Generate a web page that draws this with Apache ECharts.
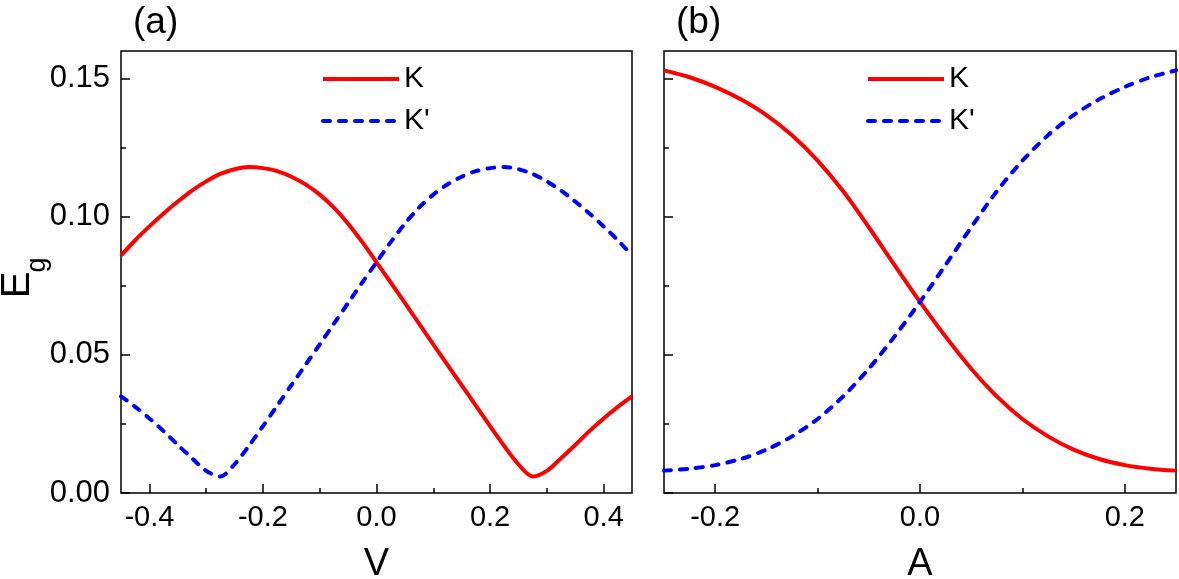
<!DOCTYPE html>
<html>
<head>
<meta charset="utf-8">
<script src="https://cdn.jsdelivr.net/npm/echarts@6/dist/echarts.min.js"></script>
<style>
  html, body { margin: 0; padding: 0; background: #fff; }
  #main { width: 1179px; height: 579px; }
</style>
</head>
<body>
<div id="main"></div>
<script>
// (a) 能隙随 V 变化
var vA = [-0.45, -0.425, -0.4, -0.375, -0.35, -0.325, -0.3, -0.275, -0.25, -0.225, -0.2, -0.175, -0.15,
          -0.125, -0.1, -0.075, -0.05, -0.025, 0, 0.025, 0.05, 0.075, 0.1, 0.125, 0.15, 0.175, 0.2,
          0.225, 0.25, 0.275, 0.3, 0.325, 0.35, 0.375, 0.4, 0.425, 0.45];
var kA = [0.0860, 0.0915, 0.0965, 0.1012, 0.1055, 0.1095, 0.1128, 0.1155, 0.1172, 0.1180, 0.1176, 0.1165, 0.1145,
          0.1117, 0.1080, 0.1033, 0.0975, 0.0908, 0.0835, 0.0762, 0.0688, 0.0613, 0.0538, 0.0464, 0.0390, 0.0316, 0.0242,
          0.0170, 0.0104, 0.0060, 0.0080, 0.0126, 0.0174, 0.0224, 0.0270, 0.0312, 0.0350];
var kpA = [0.0350, 0.0312, 0.0270, 0.0224, 0.0174, 0.0126, 0.0080, 0.0060, 0.0104, 0.0170, 0.0242, 0.0316, 0.0390,
           0.0464, 0.0538, 0.0613, 0.0688, 0.0762, 0.0835, 0.0908, 0.0975, 0.1033, 0.1080, 0.1117, 0.1145, 0.1165, 0.1176,
           0.1180, 0.1172, 0.1155, 0.1128, 0.1095, 0.1055, 0.1012, 0.0965, 0.0915, 0.0860];

// (b) 能隙随 A 变化
var aB = [-0.25, -0.225, -0.2, -0.175, -0.15, -0.125, -0.1, -0.075, -0.05, -0.025, 0,
          0.025, 0.05, 0.075, 0.1, 0.125, 0.15, 0.175, 0.2, 0.225, 0.25];
var kB = [0.1530, 0.1505, 0.1470, 0.1425, 0.1368, 0.1295, 0.1203, 0.1092, 0.0962, 0.0826, 0.0692,
          0.0566, 0.0450, 0.0350, 0.0268, 0.0205, 0.0157, 0.0123, 0.0101, 0.0088, 0.0081];
var kpB = [0.0081, 0.0088, 0.0101, 0.0123, 0.0157, 0.0205, 0.0268, 0.0350, 0.0450, 0.0566, 0.0692,
           0.0826, 0.0962, 0.1092, 0.1203, 0.1295, 0.1368, 0.1425, 0.1470, 0.1505, 0.1530];

// 刻度
var xTicksA = [-0.4, -0.2, 0, 0.2, 0.4];
var xMinorA = [-0.3, -0.1, 0.1, 0.3];
var xTicksB = [-0.2, 0, 0.2];
var xMinorB = [-0.1, 0.1];
var yTicks = [0, 0.05, 0.1, 0.15];
var yMinor = [0.025, 0.075, 0.125];

var FONT = 'Liberation Sans, Arial, sans-serif';

function pairs(xs, ys) {
    var out = [];
    for (var i = 0; i < xs.length; i++) {
        out.push([xs[i], ys[i]]);
    }
    return out;
}

function xAxisMajor(grid, min, max, ticks, name) {
    return {
        gridIndex: grid, type: 'value', position: 'bottom',
        min: min, max: max,
        axisLine: {show: false, onZero: false},
        splitLine: {show: false},
        axisTick: {inside: true, length: 9, customValues: ticks, lineStyle: {color: '#000', width: 1.5}},
        axisLabel: {
            customValues: ticks, fontSize: 29, color: '#000', margin: 10, fontFamily: FONT,
            formatter: function (v) { return v.toFixed(1); }
        },
        name: name, nameLocation: 'middle', nameGap: 53,
        nameTextStyle: {fontSize: 38, color: '#000', fontFamily: FONT}
    };
}

function xAxisMinor(grid, min, max, ticks) {
    return {
        gridIndex: grid, type: 'value', position: 'bottom',
        min: min, max: max,
        axisLine: {show: false, onZero: false},
        splitLine: {show: false},
        axisTick: {inside: true, length: 5, customValues: ticks, lineStyle: {color: '#000', width: 1.5}},
        axisLabel: {show: false}
    };
}

function yAxisMajor(grid, showLabel) {
    return {
        gridIndex: grid, type: 'value', position: 'left',
        min: 0, max: 0.16,
        axisLine: {show: false, onZero: false},
        splitLine: {show: false},
        axisTick: {inside: true, length: 9, customValues: yTicks, lineStyle: {color: '#000', width: 1.5}},
        axisLabel: {
            show: showLabel, customValues: yTicks, fontSize: 31, color: '#000', margin: 11, fontFamily: FONT,
            formatter: function (v) { return v.toFixed(2); }
        }
    };
}

function yAxisMinor(grid) {
    return {
        gridIndex: grid, type: 'value', position: 'left',
        min: 0, max: 0.16,
        axisLine: {show: false, onZero: false},
        splitLine: {show: false},
        axisTick: {inside: true, length: 5, customValues: yMinor, lineStyle: {color: '#000', width: 1.5}},
        axisLabel: {show: false}
    };
}

function lineSeries(name, data, xi, yi, dashed) {
    return {
        name: name, type: 'line', data: data,
        xAxisIndex: xi, yAxisIndex: yi,
        symbol: 'none', showSymbol: false, smooth: 0.3,
        lineStyle: dashed
            ? {color: '#0000ff', width: 4, type: [7, 9], cap: 'round'}
            : {color: '#ff0000', width: 4},
        itemStyle: {color: dashed ? '#0000ff' : '#ff0000'}
    };
}

function legendAt(left) {
    return {
        data: ['K', "K'"], orient: 'vertical',
        left: left, top: 59,
        itemWidth: 76, itemHeight: 30, itemGap: 12,
        selectedMode: false,
        itemStyle: {opacity: 0},
        lineStyle: {width: 4},
        textStyle: {fontSize: 30, lineHeight: 30, color: '#000', fontFamily: FONT}
    };
}

var myChart = echarts.init(document.getElementById('main'), null, {renderer: 'canvas'});

var gridStyle = {show: true, borderColor: '#000', borderWidth: 1.5, backgroundColor: 'transparent', outerBoundsMode: 'none'};

var option = {
    animation: false,
    backgroundColor: '#fff',
    textStyle: {fontFamily: FONT},
    grid: [
        Object.assign({left: 121, top: 51, width: 511, height: 442}, gridStyle),
        Object.assign({left: 664, top: 51, width: 512, height: 442}, gridStyle)
    ],
    xAxis: [
        xAxisMajor(0, -0.45, 0.45, xTicksA, 'V'),
        xAxisMinor(0, -0.45, 0.45, xMinorA),
        xAxisMajor(1, -0.25, 0.25, xTicksB, 'A'),
        xAxisMinor(1, -0.25, 0.25, xMinorB)
    ],
    yAxis: [
        yAxisMajor(0, true),
        yAxisMinor(0),
        yAxisMajor(1, false),
        yAxisMinor(1)
    ],
    legend: [legendAt(316), legendAt(861)],
    graphic: [
        {type: 'text', x: 133, y: 23, style: {text: '(a)', font: '37px ' + FONT, fill: '#000', textVerticalAlign: 'middle'}},
        {type: 'text', x: 676, y: 23, style: {text: '(b)', font: '37px ' + FONT, fill: '#000', textVerticalAlign: 'middle'}},
        // 纵轴名 E_g（旋转）
        {type: 'text', x: 18, y: 285, rotation: Math.PI / 2,
         style: {text: 'E', font: '40px ' + FONT, fill: '#000', textAlign: 'center', textVerticalAlign: 'middle'}},
        {type: 'text', x: 38, y: 265, rotation: Math.PI / 2,
         style: {text: 'g', font: '27px ' + FONT, fill: '#000', textAlign: 'center', textVerticalAlign: 'middle'}}
    ],
    series: [
        lineSeries('K', pairs(vA, kA), 0, 0, false),
        lineSeries("K'", pairs(vA, kpA), 0, 0, true),
        lineSeries('K', pairs(aB, kB), 2, 2, false),
        lineSeries("K'", pairs(aB, kpB), 2, 2, true)
    ]
};

myChart.setOption(option);
</script>
</body>
</html>
